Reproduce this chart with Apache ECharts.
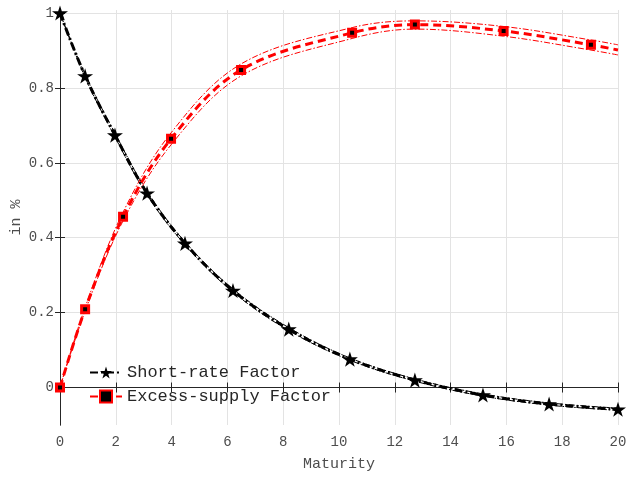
<!DOCTYPE html>
<html>
<head>
<meta charset="utf-8">
<script src="https://cdn.jsdelivr.net/npm/echarts@6/dist/echarts.min.js"></script>
<style>
  html, body { margin: 0; padding: 0; background: #fff; }
  #main { width: 626px; height: 477px; }
</style>
</head>
<body>
<div id="main"></div>
<script>
// maturities where the markers sit
const shortX = [0, 0.9, 1.97, 3.12, 4.48, 6.2, 8.2, 10.39, 12.72, 15.16, 17.53, 20];
const shortY = [1, 0.832, 0.674, 0.519, 0.385, 0.259, 0.156, 0.076, 0.020, -0.020, -0.044, -0.058];
const shortHi = [1, 0.836, 0.679, 0.524, 0.389, 0.263, 0.160, 0.079, 0.023, -0.017, -0.041, -0.055];
const shortLo = [1, 0.828, 0.669, 0.514, 0.381, 0.255, 0.152, 0.073, 0.017, -0.023, -0.047, -0.061];

const supplyX = [0, 0.9, 2.26, 3.98, 6.49, 10.47, 12.72, 15.9, 19.03, 20];
const supplyY = [0, 0.209, 0.456, 0.664, 0.848, 0.947, 0.969, 0.952, 0.915, 0.901];
const supplyHi = [0, 0.214, 0.468, 0.680, 0.864, 0.961, 0.979, 0.964, 0.928, 0.915];
const supplyLo = [0, 0.204, 0.445, 0.648, 0.832, 0.932, 0.957, 0.938, 0.901, 0.888];
const supplyMarks = [true, true, true, true, true, true, true, true, true, false];

const yTicks = [0, 0.2, 0.4, 0.6, 0.8, 1];

const FONT = "'Courier New', 'Liberation Mono', monospace";
const STAR = 'path://M50,0 L61,35 L98,35 L68,57 L79,91 L50,70 L21,91 L32,57 L2,35 L39,35 Z';

function pairs(xs, ys) {
    return xs.map((x, i) => [x, ys[i]]);
}

function band(xs, ys, color) {
    return {
        type: 'line',
        data: pairs(xs, ys),
        smooth: 0.35,
        symbol: 'none',
        silent: true,
        z: 2,
        lineStyle: { color: color, width: 1, type: [6, 2, 1.5, 2] }
    };
}

const axisCol = '#262626';
const labelCol = '#4d4d4d';

const option = {
    animation: false,
    backgroundColor: '#fff',
    grid: { left: 60, right: 8, top: 10, bottom: 52, outerBoundsMode: 'none', containLabel: false },
    legend: {
        left: 89,
        top: 364,
        padding: 0,
        orient: 'vertical',
        itemWidth: 32,
        itemHeight: 15,
        itemGap: 7,
        data: ['Short-rate Factor', 'Excess-supply Factor'],
        textStyle: { fontFamily: FONT, fontSize: 17, color: '#262626' }
    },
    xAxis: [{
        type: 'value', min: 0, max: 20, interval: 2, position: 'bottom',
        name: 'Maturity', nameLocation: 'middle', nameGap: 32,
        nameTextStyle: { fontFamily: FONT, fontSize: 15, color: labelCol },
        axisLine: { lineStyle: { color: axisCol } },
        axisTick: { inside: true, length: 5, lineStyle: { color: axisCol } },
        axisLabel: { fontFamily: FONT, fontSize: 14, color: labelCol, margin: 10 },
        splitLine: { show: true, lineStyle: { color: '#e3e3e3' } }
    }, {
        type: 'value', min: 0, max: 20, interval: 2, position: 'top',
        axisLine: { lineStyle: { color: axisCol } },
        axisTick: { inside: true, length: 5, lineStyle: { color: axisCol } },
        axisLabel: { show: false },
        splitLine: { show: false }
    }],
    yAxis: [{
        type: 'value', min: -0.1, max: 1.008, position: 'left',
        name: 'in %', nameLocation: 'middle', nameGap: 36, nameMoveOverlap: false,
        nameTextStyle: { fontFamily: FONT, fontSize: 15, color: labelCol },
        axisLine: { show: true, lineStyle: { color: axisCol } },
        axisTick: { show: true, inside: true, length: 5, customValues: yTicks,
                    lineStyle: { color: axisCol } },
        axisLabel: { fontFamily: FONT, fontSize: 14, color: labelCol, margin: 6,
                     customValues: yTicks },
        splitLine: { show: true, lineStyle: { color: '#e3e3e3' } }
    }, {
        type: 'value', min: -0.1, max: 1.008, position: 'right',
        axisLine: { show: true, lineStyle: { color: axisCol } },
        axisTick: { show: true, inside: true, length: 5, customValues: yTicks,
                    lineStyle: { color: axisCol } },
        axisLabel: { show: false },
        splitLine: { show: false }
    }],
    series: [
        band(shortX, shortHi, '#000'),
        band(shortX, shortLo, '#000'),
        band(supplyX, supplyHi, '#ff0000'),
        band(supplyX, supplyLo, '#ff0000'),
        {
            name: 'Short-rate Factor',
            type: 'line',
            data: pairs(shortX, shortY),
            smooth: 0.35,
            z: 4,
            symbol: STAR,
            symbolKeepAspect: true,
            symbolSize: 16,
            showAllSymbol: true,
            itemStyle: { color: '#000' },
            lineStyle: { color: '#000', width: 3, type: [8, 3, 2, 3] }
        },
        {
            name: 'Excess-supply Factor',
            type: 'line',
            data: supplyX.map((x, i) => supplyMarks[i]
                ? [x, supplyY[i]]
                : { value: [x, supplyY[i]], symbol: 'none' }),
            smooth: 0.35,
            z: 5,
            symbol: 'rect',
            symbolSize: 7,
            showAllSymbol: true,
            itemStyle: { color: '#000', borderColor: '#ff0000', borderWidth: 3 },
            lineStyle: { color: '#ff0000', width: 3, type: [8, 5] }
        }
    ]
};

const chart = echarts.init(document.getElementById('main'));
chart.setOption(option);
</script>
</body>
</html>
